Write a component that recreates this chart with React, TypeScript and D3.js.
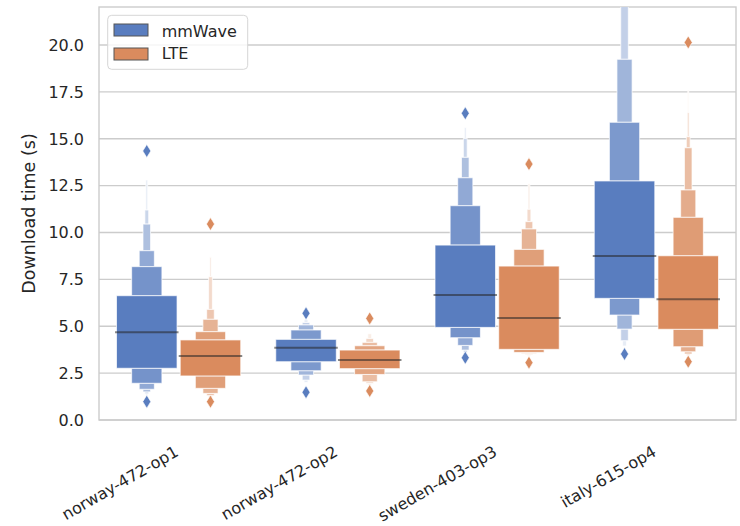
import * as d3 from "d3";

// categories and series
const categories = ["norway-472-op1", "norway-472-op2", "sweden-403-op3", "italy-615-op4"];
const seriesNames = ["mmWave", "LTE"];
const seriesColors = ["#597DBF", "#DA8B5E"];
const yTicks = [0, 2.5, 5, 7.5, 10, 12.5, 15, 17.5, 20];

// letter values per category: level 1 (IQR) outwards
const mmWaveMedian = [4.68, 3.86, 6.67, 8.75];
const mmWaveUpper = [
  [6.63, 8.18, 9.03, 10.45, 11.2, 12.8],
  [4.3, 4.8, 5.07, 5.2, 5.35],
  [9.33, 11.43, 12.92, 14.01, 15.02, 15.6],
  [12.75, 15.88, 19.24, 22.5, 24.0],
];
const mmWaveLower = [
  [2.76, 1.96, 1.64, 1.5, 1.4, 1.25],
  [3.11, 2.63, 2.4, 2.13, 2.0],
  [4.94, 4.39, 3.98, 3.73, 3.6, 3.5],
  [6.49, 5.6, 4.85, 4.23, 3.95],
];
const mmWaveOutliers = [
  [14.35, 0.98],
  [5.69, 1.48],
  [16.36, 3.32],
  [3.52],
];

const lteMedian = [3.41, 3.2, 5.44, 6.44];
const lteUpper = [
  [4.27, 4.71, 5.37, 5.9, 7.64, 8.7],
  [3.73, 3.96, 4.14, 4.35, 4.6],
  [8.21, 9.1, 10.19, 10.58, 11.24, 12.6],
  [8.76, 10.81, 12.27, 14.52, 15.11, 16.4, 17.6],
];
const lteLower = [
  [2.35, 1.69, 1.42, 1.3, 1.2, 1.1],
  [2.74, 2.43, 2.04, 1.95, 1.85],
  [3.77, 3.6, 3.55, 3.5, 3.45, 3.4],
  [4.84, 3.91, 3.64, 3.52, 3.45, 3.4, 3.35],
];
const lteOutliers = [
  [10.45, 0.98],
  [5.42, 1.55],
  [13.65, 3.06],
  [20.14, 3.11],
];

const medians = [mmWaveMedian, lteMedian];
const uppers = [mmWaveUpper, lteUpper];
const lowers = [mmWaveLower, lteLower];
const outliers = [mmWaveOutliers, lteOutliers];

const W = 740, H = 526;
const left = 99, right = 736, top = 7, bottom = 420;
const font = "DejaVu Sans, sans-serif";
const textColor = "#262626";

export default function App() {
  const y = d3.scaleLinear().domain([0, 22.03]).range([bottom, top]);
  const x = d3.scaleBand().domain(categories).range([left, right]);
  const bw = x.bandwidth();
  const hue = d3.scaleBand().domain(seriesNames).range([-0.4 * bw, 0.4 * bw]);
  const boxW = hue.bandwidth() * 0.95;
  const fmt = d3.format(".1f");

  const diamond = (cx, cy) =>
    `M${cx},${cy - 6.5}L${cx + 4},${cy}L${cx},${cy + 6.5}L${cx - 4},${cy}Z`;

  return (
    <svg width={W} height={H} style={{ position: "absolute", left: 0, top: 0, background: "#fff" }}>
      <defs>
        <clipPath id="plot">
          <rect x={left} y={top} width={right - left} height={bottom - top} />
        </clipPath>
      </defs>
      {yTicks.map((t) => (
        <g key={t}>
          <line x1={left} x2={right} y1={y(t)} y2={y(t)} stroke="#cccccc" strokeWidth={1.4} />
          <text x={84} y={y(t)} dy="0.36em" textAnchor="end" fontFamily={font} fontSize={16} fill={textColor}>
            {fmt(t)}
          </text>
        </g>
      ))}
      <rect x={left} y={top} width={right - left} height={bottom - top} fill="none" stroke="#cccccc" strokeWidth={1.4} />

      <g clipPath="url(#plot)">
        {seriesNames.map((s, si) =>
          categories.map((c, ci) => {
            const cx = x(c) + bw / 2 + hue(s) + hue.bandwidth() / 2;
            const up = uppers[si][ci];
            const lo = lowers[si][ci];
            const k = up.length;
            const light = d3.interpolateRgb(seriesColors[si], "#ffffff")(0.85);
            const col = d3.interpolateRgb(seriesColors[si], light);
            const levels = d3.range(k).reverse();
            return (
              <g key={s + c}>
                {levels.map((j) => {
                  const w = boxW / Math.pow(2, j);
                  const fill = col(k > 1 ? j / (k - 1) : 0);
                  if (j === 0) {
                    return (
                      <rect key={j} x={cx - w / 2} y={y(up[0])} width={w} height={y(lo[0]) - y(up[0])}
                        fill={fill} stroke="#ffffff" strokeOpacity={0.7} strokeWidth={1} />
                    );
                  }
                  return (
                    <g key={j}>
                      <rect x={cx - w / 2} y={y(up[j])} width={w} height={y(up[j - 1]) - y(up[j])}
                        fill={fill} stroke="#ffffff" strokeOpacity={0.7} strokeWidth={1} />
                      <rect x={cx - w / 2} y={y(lo[j - 1])} width={w} height={y(lo[j]) - y(lo[j - 1])}
                        fill={fill} stroke="#ffffff" strokeOpacity={0.7} strokeWidth={1} />
                    </g>
                  );
                })}
                <line x1={cx - boxW / 2 - 1.5} x2={cx + boxW / 2 + 1.5} y1={y(medians[si][ci])} y2={y(medians[si][ci])}
                  stroke="#262626" strokeOpacity={0.55} strokeWidth={2} />
                {outliers[si][ci].map((o, oi) => (
                  <path key={oi} d={diamond(cx, y(o))} fill={seriesColors[si]} stroke="#ffffff" strokeWidth={0.6} />
                ))}
              </g>
            );
          })
        )}
      </g>

      {categories.map((c) => {
        const ax = x(c) + bw / 2 + 1;
        const ay = 455;
        return (
          <text key={c} x={ax} y={ay} textAnchor="end" transform={`rotate(-30, ${ax}, ${ay})`}
            fontFamily={font} fontSize={16} fill={textColor}>
            {c}
          </text>
        );
      })}

      <text x={0} y={0} transform={`translate(35, ${(top + bottom) / 2}) rotate(-90)`} textAnchor="middle"
        fontFamily={font} fontSize={17.5} fill={textColor}>
        Download time (s)
      </text>

      <g>
        <rect x={107.7} y={15.3} width={140} height={54} rx={4} fill="#ffffff" fillOpacity={0.8} stroke="#d6d6d6" strokeWidth={1} />
        {seriesNames.map((s, i) => (
          <g key={s}>
            <rect x={114} y={24 + i * 24} width={34} height={12} fill={seriesColors[i]} stroke="#555555" strokeWidth={1} />
            <text x={161.7} y={36.5 + i * 22.5} fontFamily={font} fontSize={16} fill={textColor}>
              {s}
            </text>
          </g>
        ))}
      </g>
    </svg>
  );
}
